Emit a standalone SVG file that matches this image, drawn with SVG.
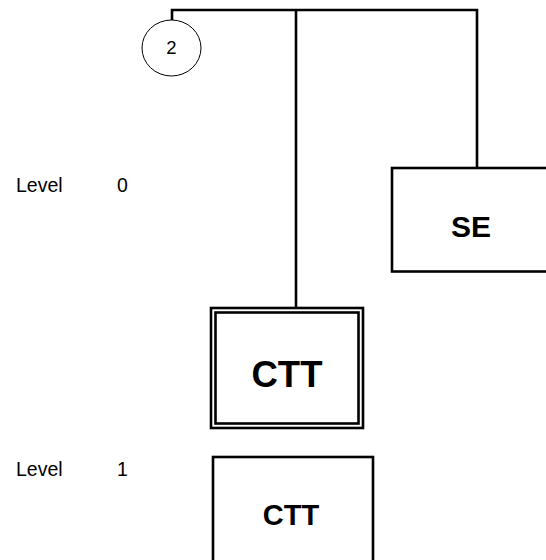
<svg xmlns="http://www.w3.org/2000/svg" width="546" height="560" viewBox="0 0 546 560">
<style>
.ln{fill:none;stroke:#000;stroke-width:2.6}
.box{fill:#fff;stroke:#000;stroke-width:2.6}
.lbl{font-family:"Liberation Sans",Arial,sans-serif;fill:#000}
.big{font-weight:bold;text-anchor:middle}
</style>
<rect width="546" height="560" fill="#fff"/>
<g id="connectors">
<path class="ln" d="M172,20 V10 H477 V168"/>
<path class="ln" d="M296,10 V308"/>
</g>
<g id="junction-2">
<ellipse cx="171.5" cy="48" rx="29.5" ry="28" fill="#fff" stroke="#000" stroke-width="1"/>
<text class="lbl" x="171.5" y="54" font-size="18.5" text-anchor="middle">2</text>
</g>
<g id="level0">
<text class="lbl" x="16" y="192" font-size="19.5">Level</text>
<text class="lbl" x="117" y="192" font-size="19.5">0</text>
</g>
<g id="level1">
<text class="lbl" x="16" y="476" font-size="19.5">Level</text>
<text class="lbl" x="117" y="476" font-size="19.5">1</text>
</g>
<g id="se">
<rect class="box" x="392" y="168" width="160" height="103.5"/>
<text class="lbl big" x="471" y="237" font-size="30">SE</text>
</g>
<g id="ctt-main">
<rect class="box" x="211" y="308" width="152" height="120" stroke-width="2.2"/>
<rect class="box" x="215.5" y="312.5" width="143" height="111" stroke-width="2.2"/>
<text class="lbl big" x="287" y="387" font-size="36.5">CTT</text>
</g>
<g id="ctt-level1">
<rect class="box" x="213" y="457" width="160" height="120"/>
<text class="lbl big" x="291" y="525" font-size="29">CTT</text>
</g>
</svg>
